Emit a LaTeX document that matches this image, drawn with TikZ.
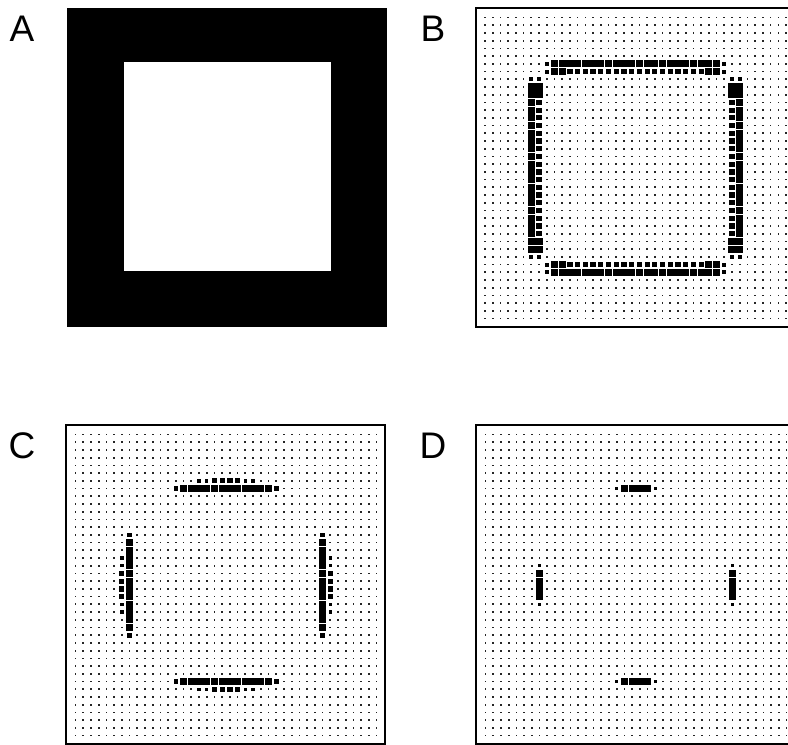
\documentclass[tikz,border=0pt]{standalone}
\usepackage{fontspec}
\setmainfont{Liberation Sans}
\begin{document}
\begin{tikzpicture}[x=1pt,y=-1pt,
  dotc/.style={fill=black!85},
  frame/.style={draw=black,line width=2pt},
  lbl/.style={font=\fontsize{37}{37}\selectfont,inner sep=0pt,anchor=center}]
\useasboundingbox (0,0) rectangle (788,745);
\clip (0,0) rectangle (788,745);
\def\gs{7.72}
\def\Bg{7.2}\def\Md{5.2}\def\Sm{4}
\newcommand\gridat{\foreach \i in {0,...,39}{\foreach \j in {0,...,39}{\fill[dotc] (\ox+\i*\gs-0.85,\oy+\j*\gs-0.85) rectangle ++(1.7,1.7);}}}
\newcommand\cl[3]{\fill ({\ox+(#1)*\gs-(#3)/2},{\oy+(#2)*\gs-(#3)/2}) rectangle ++(#3,#3);}
% four-fold symmetric cell: (i along bar, j row from edge)
\newcommand\cq[3]{\cl{#1}{#2}{#3}\cl{#1}{39-#2}{#3}\cl{#2}{#1}{#3}\cl{39-#2}{#1}{#3}}
% Panel A
\fill[black] (67,7.5) rectangle (387,327);
\fill[white] (123.5,62) rectangle (331,271);
% Panel B
\def\ox{485}\def\oy{17.5}
\gridat
\foreach \k in {9,...,30}{\cq{\k}{6}{\Bg}}
\foreach \k in {11,...,28}{\cq{\k}{7}{\Md}}
\foreach \k in {9,10,29,30}{\cq{\k}{7}{\Bg}}
\foreach \k in {8,31}{\cq{\k}{6}{\Sm}\cq{\k}{7}{\Sm}}
\draw[frame] (476,8) rectangle (796,327);
% Panel C
\def\ox{75.5}\def\oy{434.5}
\gridat
\foreach \k in {14,...,25}{\cq{\k}{7}{\Bg}}
\foreach \k in {13,26}{\cq{\k}{7}{4.6}}
\foreach \k in {18,...,21}{\cq{\k}{6}{\Md}}
\foreach \k in {16,17,22,23}{\cq{\k}{6}{3.4}}
\draw[frame] (66,425) rectangle (385,744);
% Panel D
\def\ox{485.5}\def\oy{434.5}
\gridat
\foreach \k in {18,...,21}{\cq{\k}{7}{\Bg}}
\foreach \k in {17,22}{\cq{\k}{7}{3.2}}
\draw[frame] (476,425) rectangle (796,744);
% labels
\node[lbl] (la) at (22,29) {A};
\node[lbl] (lb) at (433,29) {B};
\node[lbl] (lc) at (22,446) {C};
\node[lbl] (ld) at (433,446) {D};
\end{tikzpicture}
\end{document}
